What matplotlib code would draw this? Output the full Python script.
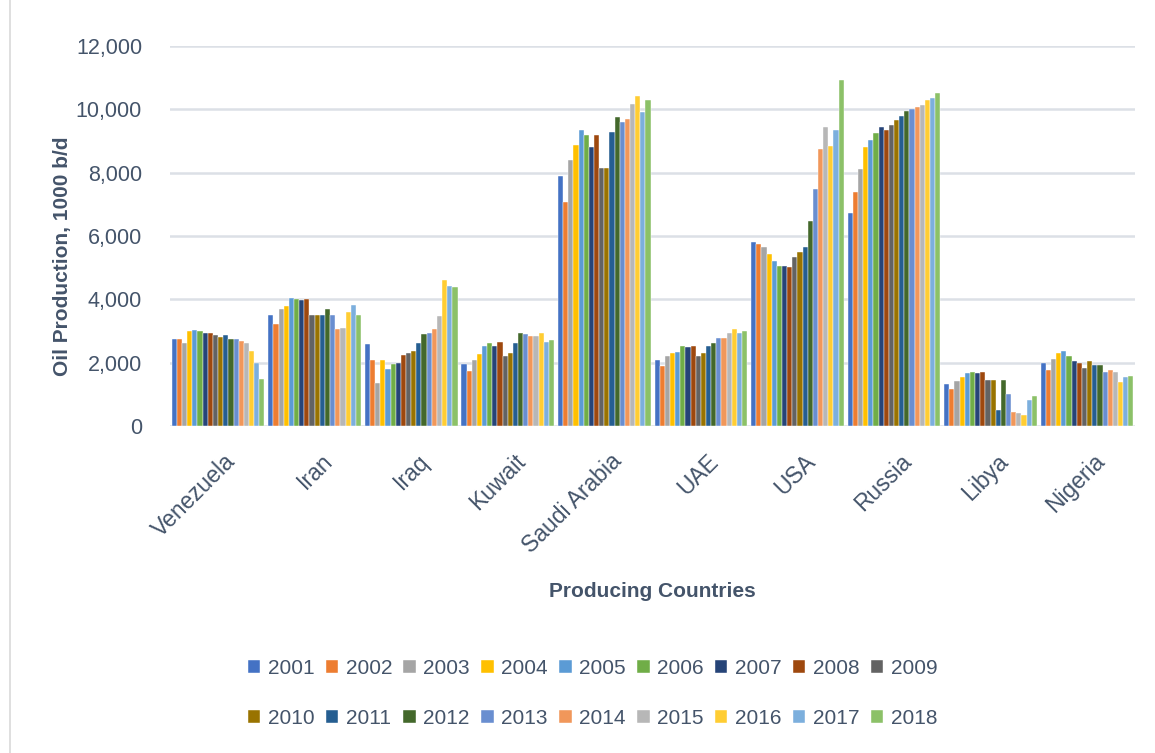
import numpy as np
import matplotlib.pyplot as plt
from matplotlib.patches import Rectangle
from matplotlib.transforms import ScaledTranslation

plt.rcParams['font.family'] = ['Liberation Sans', 'DejaVu Sans']

countries = ['Venezuela', 'Iran', 'Iraq', 'Kuwait', 'Saudi Arabia',
             'UAE', 'USA', 'Russia', 'Libya', 'Nigeria']
years = [str(y) for y in range(2001, 2019)]

# 每个国家 2001-2018 的产量 (1000 b/d)
venezuela = [2760, 2760, 2625, 2990, 3030, 2990, 2950, 2950, 2865,
             2810, 2865, 2760, 2760, 2680, 2625, 2365, 2000, 1500]
iran = [3520, 3210, 3700, 3800, 4060, 4010, 3980, 4020, 3520,
        3520, 3520, 3710, 3520, 3070, 3100, 3615, 3830, 3520]
iraq = [2580, 2080, 1365, 2080, 1810, 1950, 1990, 2260, 2310,
        2365, 2625, 2895, 2940, 3070, 3490, 4600, 4430, 4385]
kuwait = [1950, 1730, 2080, 2270, 2530, 2625, 2530, 2665, 2220,
          2310, 2625, 2940, 2895, 2855, 2855, 2940, 2665, 2710]
saudi = [7890, 7070, 8390, 8880, 9335, 9200, 8800, 9200, 8160,
         8160, 9290, 9745, 9610, 9690, 10155, 10425, 9920, 10290]
uae = [2085, 1905, 2220, 2305, 2355, 2535, 2495, 2535, 2220,
       2305, 2535, 2620, 2770, 2770, 2945, 3080, 2945, 2990]
usa = [5810, 5765, 5660, 5440, 5200, 5070, 5070, 5010, 5345,
       5490, 5660, 6480, 7485, 8760, 9445, 8840, 9360, 10940]
russia = [6715, 7380, 8125, 8800, 9035, 9255, 9430, 9345, 9490,
          9670, 9800, 9935, 10020, 10075, 10125, 10300, 10345, 10525]
libya = [1330, 1175, 1415, 1540, 1675, 1725, 1675, 1725, 1455,
         1455, 510, 1455, 1015, 450, 410, 345, 840, 965]
nigeria = [1990, 1780, 2135, 2315, 2370, 2220, 2050, 1990, 1830,
           2050, 1925, 1925, 1725, 1780, 1725, 1400, 1540, 1585]

data = np.array([venezuela, iran, iraq, kuwait, saudi,
                 uae, usa, russia, libya, nigeria])

colors = ['#4472C4', '#ED7D31', '#A5A5A5', '#FFC000', '#5B9BD5', '#70AD47',
          '#264478', '#9E480E', '#636363', '#997300', '#255E91', '#43682B',
          '#698ED0', '#F1975A', '#B7B7B7', '#FFCD33', '#7CAFDD', '#8CC168']

txt = '#44546A'

fig = plt.figure(figsize=(11.55, 7.53), dpi=100)
ax = fig.add_axes([0.147, 0.434, 0.836, 0.505])

x = np.arange(len(countries))
n = len(years)
w = 0.96 / n
for i in range(n):
    ax.bar(x - 0.48 + w * (i + 0.5), data[:, i], width=w, color=colors[i],
           edgecolor='white', linewidth=0.3, label=years[i], zorder=3)

ax.set_xlim(-0.5, len(countries) - 0.5)
ax.set_ylim(0, 12000)
ax.set_yticks(range(0, 12001, 2000))
ax.set_yticklabels([f'{v:,}' for v in range(0, 12001, 2000)])
ax.grid(axis='y', color='#DCE0E6', linewidth=1.8, zorder=0)
for s in ax.spines.values():
    s.set_visible(False)
ax.tick_params(axis='both', length=0, labelsize=15.5, labelcolor=txt)
ax.tick_params(axis='y', pad=20)
ax.set_xticks(x)
ax.set_xticklabels(countries, rotation=45, ha='right', rotation_mode='anchor',
                   fontsize=16.5)
ax.tick_params(axis='x', pad=17)
shift = ScaledTranslation(0.06, 0, fig.dpi_scale_trans)
for lab in ax.get_xticklabels():
    lab.set_transform(lab.get_transform() + shift)

fig.text(0.565, 0.215, 'Producing Countries', ha='center', va='center',
         fontsize=15, fontweight='bold', color=txt)
fig.text(0.054, 0.66, 'Oil Production, 1000 b/d', ha='center', va='center',
         rotation=90, fontsize=15, fontweight='bold', color=txt)

# legend 按行排列：matplotlib 按列填充，所以先重排
h, l = ax.get_legend_handles_labels()
order = [k for j in range(9) for k in (j, j + 9)]
leg = fig.legend([h[k] for k in order], [l[k] for k in order],
                 loc='center', bbox_to_anchor=(0.513, 0.079), ncol=9,
                 frameon=False, fontsize=15, handlelength=0.6,
                 handleheight=0.6, handletextpad=0.35, columnspacing=0.55,
                 labelspacing=1.5)
for t in leg.get_texts():
    t.set_color(txt)

fig.patches.append(Rectangle((10 / 1155, -0.05), 1.2, 1.2,
                             transform=fig.transFigure, fill=False,
                             edgecolor='#D9D9D9', linewidth=1.2))

plt.savefig('out.png', dpi=100)
